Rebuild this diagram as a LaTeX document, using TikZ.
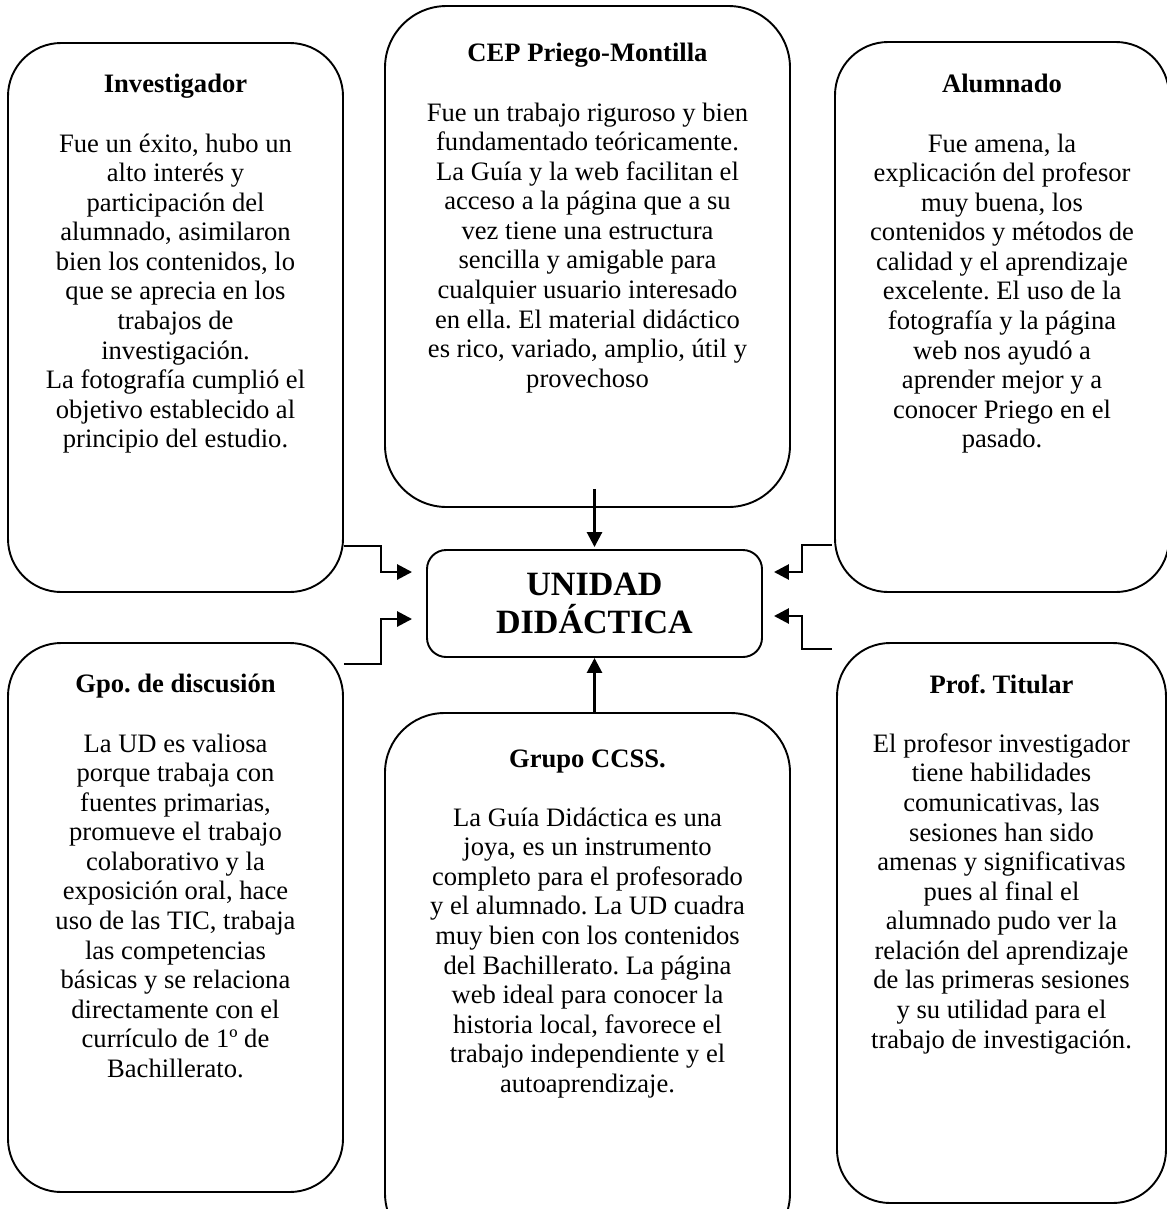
\documentclass[tikz,border=0pt]{standalone}
\usepackage{fontspec}
\setmainfont{Liberation Serif}
\usetikzlibrary{arrows.meta,calc}
\newcommand{\pxu}{0.47pt}
\frenchspacing
\tikzset{
  >={Triangle[length=7pt,width=7pt]},
  panel/.style 2 args={draw,line width=0.9pt,rounded corners=25pt,
    minimum width=#1*\pxu,minimum height=#2*\pxu,inner sep=0pt},
  paneltext/.style={anchor=north,align=center,inner sep=0pt,
    font=\fontsize{12.5}{13.9}\selectfont},
  link/.style={->,line width=1.3pt},
}
\begin{document}
\begin{tikzpicture}[x=\pxu,y=-\pxu]
  \useasboundingbox (0,0) rectangle (1167,1209);
  \clip (0,0) rectangle (1167,1209);
  % panels
  \node[panel={335}{549}] (inv) at (175.5,317.5) {};
  \node[panel={405}{501},rounded corners=29pt] (cep) at (587.5,256.5) {};
  \node[panel={334}{550}] (alu) at (1002,317) {};
  \node[panel={335}{107},rounded corners=9pt,font=\fontsize{16}{17.9}\selectfont\bfseries,align=center] (uni) at (594.5,603.5) {UNIDAD\\DIDÁCTICA};
  \node[panel={335}{549}] (gpo) at (175.5,917.5) {};
  \node[panel={405}{540},rounded corners=28pt] (ccss) at (587.5,983) {};
  \node[panel={329}{560}] (prof) at (1001.5,923) {};
  % texts
  \node[paneltext] (invtxt) at ($(inv.north)+(0,32)$) {\textbf{Investigador}\\[\baselineskip]
    Fue un éxito, hubo un\\ alto interés y\\ participación del\\ alumnado, asimilaron\\
    bien los contenidos, lo\\ que se aprecia en los\\ trabajos de\\ investigación.\\
    La fotografía cumplió el\\ objetivo establecido al\\ principio del estudio.};
  \node[paneltext] (ceptxt) at ($(cep.north)+(0,38)$) {\textbf{CEP Priego-Montilla}\\[\baselineskip]
    Fue un trabajo riguroso y bien\\ fundamentado teóricamente.\\ La Guía y la web facilitan el\\
    acceso a la página que a su\\ vez tiene una estructura\\ sencilla y amigable para\\
    cualquier usuario interesado\\ en ella. El material didáctico\\ es rico, variado, amplio, útil y\\
    provechoso};
  \node[paneltext] (alutxt) at ($(alu.north)+(0,33)$) {\textbf{Alumnado}\\[\baselineskip]
    Fue amena, la\\ explicación del profesor\\ muy buena, los\\ contenidos y métodos de\\
    calidad y el aprendizaje\\ excelente. El uso de la\\ fotografía y la página\\
    web nos ayudó a\\ aprender mejor y a\\ conocer Priego en el\\ pasado.};
  \node[paneltext] (gpotxt) at ($(gpo.north)+(0,32)$) {\textbf{Gpo. de discusión}\\[\baselineskip]
    La UD es valiosa\\ porque trabaja con\\ fuentes primarias,\\ promueve el trabajo\\
    colaborativo y la\\ exposición oral, hace\\ uso de las TIC, trabaja\\ las competencias\\
    básicas y se relaciona\\ directamente con el\\ currículo de 1º de\\ Bachillerato.};
  \node[paneltext] (ccsstxt) at ($(ccss.north)+(0,37)$) {\textbf{Grupo CCSS.}\\[\baselineskip]
    La Guía Didáctica es una\\ joya, es un instrumento\\ completo para el profesorado\\
    y el alumnado. La UD cuadra\\ muy bien con los contenidos\\ del Bachillerato. La página\\
    web ideal para conocer la\\ historia local, favorece el\\ trabajo independiente y el\\
    autoaprendizaje.};
  \node[paneltext] (proftxt) at ($(prof.north)+(0,32)$) {\textbf{Prof. Titular}\\[\baselineskip]
    El profesor investigador\\ tiene habilidades\\ comunicativas, las\\ sesiones han sido\\
    amenas y significativas\\ pues al final el\\ alumnado pudo ver la\\ relación del aprendizaje\\
    de las primeras sesiones\\ y su utilidad para el\\ trabajo de investigación.};
  % connectors
  \coordinate (invout) at ($(inv.south east)+(0,-47)$);
  \coordinate (gpoout) at ($(gpo.north east)+(0,22)$);
  \coordinate (aluout) at ($(alu.south west)+(-2,-48)$);
  \coordinate (profout) at ($(prof.north west)+(-4,7)$);
  \draw[link] (invout) -- ++(37,0) |- ($(uni.west)+(-14,-31.5)$);
  \draw[link] (gpoout) -- ++(37,0) |- ($(uni.west)+(-14,15.5)$);
  \draw[link] (aluout) -- ++(-30,0) |- ($(uni.east)+(11,-31.5)$);
  \draw[link] (profout) -- ++(-30,0) |- ($(uni.east)+(11,12.5)$);
  \draw[link] ($(uni.north |- cep.south)+(0,-19)$) -- ($(uni.north)+(0,-2)$);
  \draw[link] (uni.south |- ccss.north) -- (uni.south);
\end{tikzpicture}
\end{document}
